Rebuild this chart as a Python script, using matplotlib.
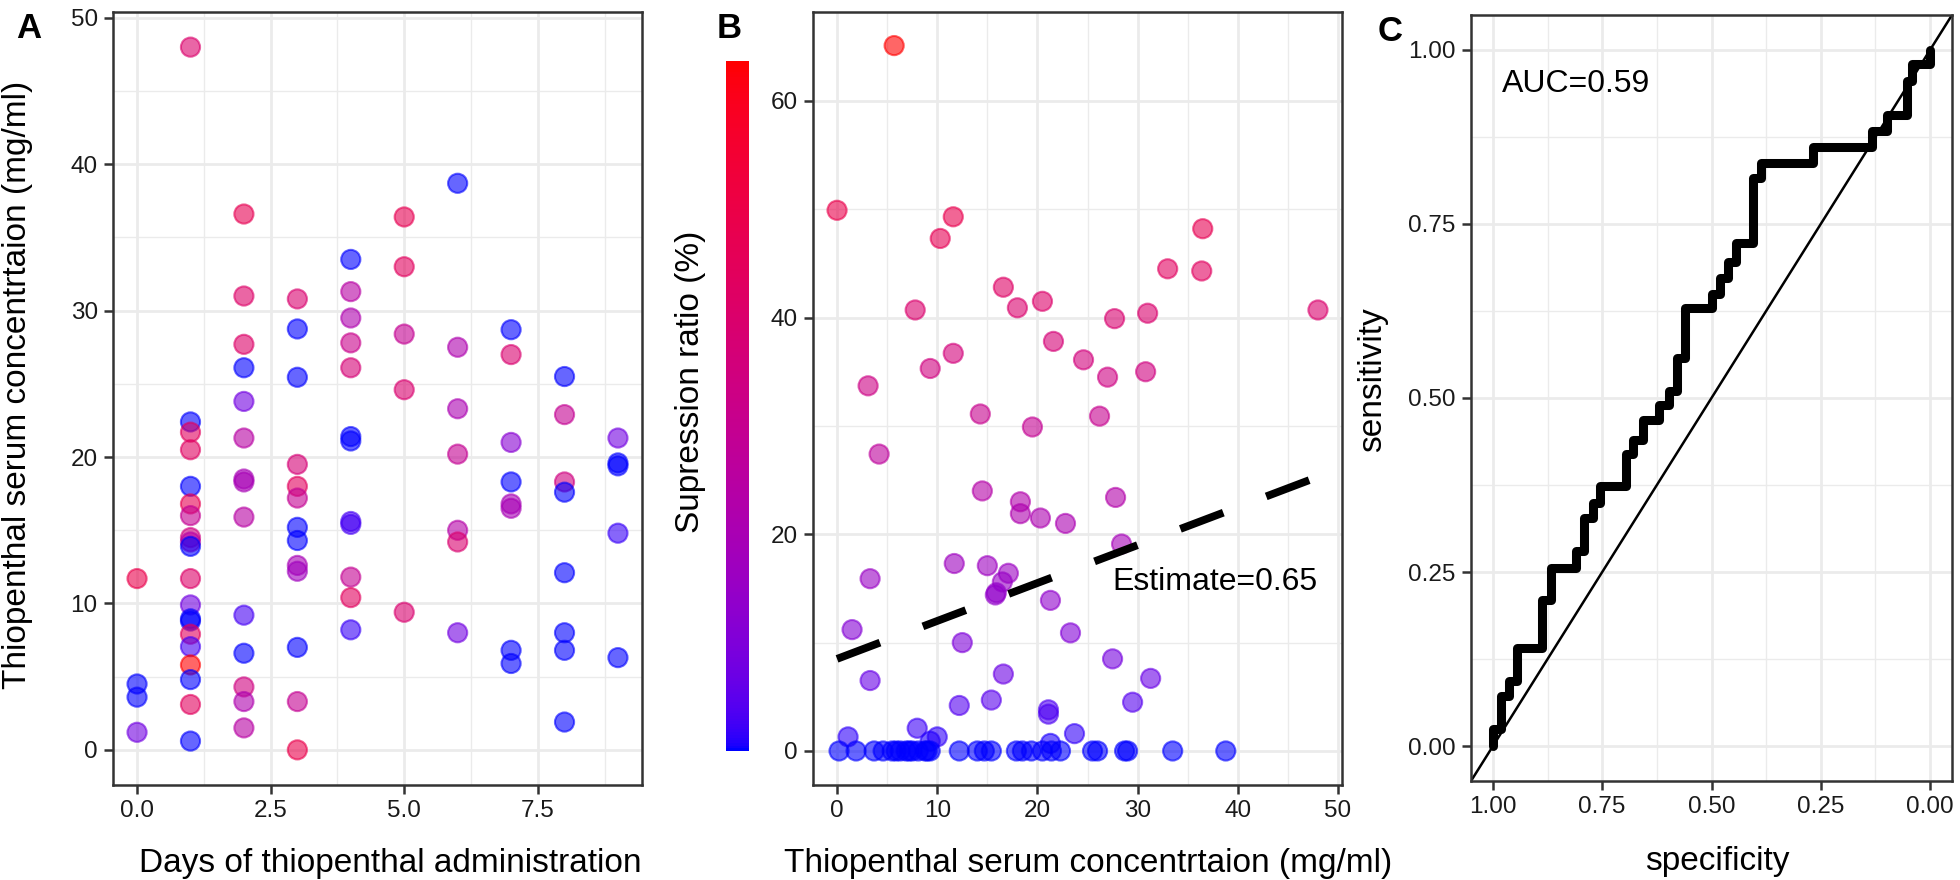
"""
Thiopenthal serum level vs. days / suppression ratio, plus ROC curve
"""
import numpy as np
import matplotlib
matplotlib.use("Agg")
import matplotlib.pyplot as plt
from matplotlib.colors import ListedColormap, Normalize
from matplotlib.ticker import MultipleLocator

# ---------------- data ----------------
# panel A: day of administration, serum concentration (mg/ml), suppression ratio (%)
a_days = ([0]*4 + [1]*20 + [2]*14 + [3]*13 + [4]*12 + [5]*5 + [6]*7
          + [7]*8 + [8]*8 + [9]*5)
a_conc = [11.7, 4.5, 3.6, 1.2,
          48.0, 22.4, 21.7, 20.5, 18.0, 16.8, 16.0, 14.5, 14.2, 13.9,
          11.7, 9.9, 8.95, 8.8, 7.9, 7.05, 5.8, 4.8, 3.1, 0.6,
          36.6, 31.0, 27.7, 26.1, 23.8, 21.3, 18.5, 18.3, 15.9, 9.2,
          6.6, 4.3, 3.3, 1.5,
          30.8, 28.75, 25.45, 19.5, 18.0, 17.2, 15.2, 14.3, 12.6, 12.2,
          7.0, 3.3, 0.0,
          33.5, 31.3, 29.5, 27.8, 26.1, 21.4, 21.1, 15.6, 15.4, 11.8, 10.4, 8.2,
          36.4, 33.0, 28.4, 24.6, 9.4,
          38.7, 27.5, 23.3, 20.2, 15.0, 14.2, 8.0,
          28.7, 27.0, 21.0, 18.3, 16.8, 16.5, 6.8, 5.9,
          25.5, 22.9, 18.3, 17.6, 12.1, 8.0, 6.8, 1.9,
          21.3, 19.6, 19.4, 14.8, 6.3]
a_supp = [50, 0, 0, 8,
          41, 0, 45, 44, 0, 48, 30, 35, 25, 0,
          42, 8, 0, 0, 45, 3, 65, 0, 45, 0,
          48, 42, 42, 0, 8, 25, 20, 20, 25, 3,
          0, 35, 22, 25,
          40, 0, 0, 38, 45, 30, 0, 0, 20, 18,
          0, 30, 50,
          0, 25, 22, 32, 38, 0, 0, 3, 3, 30, 45, 2,
          48, 45, 30, 40, 40,
          0, 22, 21, 30, 24, 40, 8,
          0, 40, 12, 0, 20, 20, 0, 0,
          0, 30, 35, 0, 0, 0, 0, 0,
          8, 0, 0, 2, 0]

# panel B: serum concentration vs suppression ratio
b_conc = [5.7, 0.0, 11.6, 10.3, 36.5, 33.0, 36.4, 16.6, 18.0, 20.5, 7.8, 27.7,
          31.0, 48.0, 21.6, 24.6, 11.6, 9.3, 27.0, 30.8, 3.1, 14.3, 26.2, 19.5,
          4.2, 14.5, 18.3, 18.3, 20.3, 22.8, 27.8, 28.4, 11.7, 15.0, 17.1, 16.5,
          15.9, 15.8, 21.3, 3.3, 1.5, 12.5, 23.3, 27.5, 16.6, 3.3, 31.3, 12.2,
          15.4, 21.1, 21.1, 29.5, 8.0, 23.7, 1.1, 10.0, 9.3, 21.3,
          0.2, 1.9, 3.7, 4.6, 5.5, 5.9, 6.3, 6.9, 7.2, 7.5, 8.1, 8.8, 9.0, 9.3,
          12.2, 14.0, 14.7, 15.4, 17.9, 18.5, 19.4, 20.5, 21.4, 22.3, 25.5,
          26.0, 28.7, 29.0, 33.5, 38.8]
b_supp = [65.1, 49.9, 49.3, 47.3, 48.2, 44.5, 44.3, 42.8, 40.9, 41.5, 40.7, 39.9,
          40.4, 40.7, 37.8, 36.1, 36.7, 35.3, 34.5, 35.0, 33.7, 31.1, 30.9, 29.9,
          27.4, 24.0, 23.0, 21.9, 21.5, 21.0, 23.4, 19.1, 17.3, 17.1, 16.4, 15.6,
          14.6, 14.4, 13.9, 15.9, 11.2, 10.0, 10.9, 8.5, 7.1, 6.5, 6.7, 4.2,
          4.7, 3.8, 3.4, 4.5, 2.1, 1.6, 1.3, 1.3, 0.9, 0.7,
          0, 0, 0, 0, 0, 0, 0, 0, 0, 0, 0, 0, 0, 0,
          0, 0, 0, 0, 0, 0, 0, 0, 0, 0, 0,
          0, 0, 0, 0, 0]
fit_intercept = 8.5   # linear trend
fit_slope = 0.35
fit_label = "Estimate=0.65"

# panel C: ROC curve corners (specificity, sensitivity)
roc_spec = [1.0, 0.981, 0.962, 0.944, 0.887, 0.868, 0.81, 0.791, 0.772, 0.754,
            0.695, 0.68, 0.657, 0.62, 0.597, 0.578, 0.56, 0.5, 0.481, 0.462,
            0.443, 0.405, 0.386, 0.269, 0.134, 0.098, 0.054, 0.041, 0.0, 0.0]
roc_sens = [0.0, 0.024, 0.072, 0.093, 0.141, 0.21, 0.256, 0.28, 0.327, 0.349,
            0.373, 0.42, 0.44, 0.468, 0.49, 0.51, 0.558, 0.629, 0.649, 0.672,
            0.696, 0.723, 0.816, 0.838, 0.86, 0.883, 0.907, 0.955, 0.979, 1.0]
auc_label = "AUC=0.59"

a_xticks = [0, 2.5, 5, 7.5]
a_xticklabels = ["0.0", "2.5", "5.0", "7.5"]
a_yticks = [0, 10, 20, 30, 40, 50]
b_xticks = [0, 10, 20, 30, 40, 50]
b_yticks = [0, 20, 40, 60]
c_ticks = [0, 0.25, 0.5, 0.75, 1.0]
c_ticklabels = ["0.00", "0.25", "0.50", "0.75", "1.00"]

# ---------------- style ----------------
plt.rcParams["font.family"] = ["Liberation Sans", "DejaVu Sans"]

TICK_FS = 17.5
LAB_FS = 24
BORDER = "#333333"
GRID = "#EBEBEB"


def lab_ramp(lo, hi, n=256):
	"""blue->red ramp interpolated in CIELAB, like ggplot's gradient"""
	M = np.array([[0.4124, 0.3576, 0.1805],
	              [0.2126, 0.7152, 0.0722],
	              [0.0193, 0.1192, 0.9505]])
	white = np.array([0.95047, 1.0, 1.08883])

	def to_lab(rgb):
		rgb = np.asarray(rgb, float)
		lin = np.where(rgb <= 0.04045, rgb / 12.92, ((rgb + 0.055) / 1.055) ** 2.4)
		xyz = M @ lin / white
		f = np.where(xyz > 0.008856, np.cbrt(xyz), 7.787 * xyz + 16 / 116)
		return np.array([116 * f[1] - 16, 500 * (f[0] - f[1]), 200 * (f[1] - f[2])])

	t = np.linspace(0, 1, n)[:, None]
	lab = to_lab(lo) * (1 - t) + to_lab(hi) * t
	fy = (lab[:, 0] + 16) / 116
	f = np.stack([fy + lab[:, 1] / 500, fy, fy - lab[:, 2] / 200], axis=1)
	xyz = np.where(f ** 3 > 0.008856, f ** 3, (f - 16 / 116) / 7.787) * white
	lin = np.clip(xyz @ np.linalg.inv(M).T, 0, 1)
	srgb = np.where(lin <= 0.0031308, 12.92 * lin, 1.055 * lin ** (1 / 2.4) - 0.055)
	return ListedColormap(np.clip(srgb, 0, 1))


cmap = lab_ramp((0, 0, 1), (1, 0, 0))
norm = Normalize(vmin=0, vmax=max(b_supp))


def dots(ax, x, y, c):
	cols = cmap(norm(np.asarray(c, float)))
	cols[:, 3] = 0.6
	ax.scatter(x, y, s=190, marker="o", facecolors=cols, edgecolors=cols,
	           linewidths=1.5, zorder=3)


def style(ax):
	for s in ax.spines.values():
		s.set_color(BORDER)
		s.set_linewidth(1.8)
	ax.set_axisbelow(True)
	ax.grid(True, which="major", color=GRID, lw=2.0)
	ax.grid(True, which="minor", color=GRID, lw=1.0)
	ax.tick_params(which="major", length=6.5, width=1.8, color=BORDER, pad=4.5,
	               labelsize=TICK_FS, labelcolor="#1a1a1a")
	ax.tick_params(which="minor", length=0)


def px(x, y):
	# pixel position (from top-left) -> figure fraction
	return x / 1960, 1 - y / 880


def box(left, top, right, bottom):
	return [left / 1960, 1 - bottom / 880, (right - left) / 1960, (bottom - top) / 880]


fig = plt.figure(figsize=(19.6, 8.8), dpi=100)

# ---------------- A ----------------
axA = fig.add_axes(box(113, 12, 642, 785))
dots(axA, a_days, a_conc, a_supp)
axA.set_xlim(-0.45, 9.45)
axA.set_ylim(-2.4, 50.4)
axA.set_xticks(a_xticks, a_xticklabels)
axA.set_yticks(a_yticks, [str(v) for v in a_yticks])
axA.xaxis.set_minor_locator(MultipleLocator(1.25))
axA.yaxis.set_minor_locator(MultipleLocator(5))
style(axA)

# ---------------- B ----------------
axB = fig.add_axes(box(813, 12, 1342, 785))
dots(axB, b_conc, b_supp, b_supp)
xs = np.array([min(b_conc), max(b_conc)])
axB.plot(xs, fit_intercept + fit_slope * xs, color="black", lw=5.6,
         dashes=(5.9, 5.9), dash_capstyle="butt", zorder=4)
axB.text(27.5, 17.0, fit_label, ha="left", va="top", fontsize=23, zorder=5)
axB.set_xlim(-2.4, 50.4)
axB.set_ylim(-3.14, 68.2)
axB.set_xticks(b_xticks, [str(v) for v in b_xticks])
axB.set_yticks(b_yticks, [str(v) for v in b_yticks])
axB.xaxis.set_minor_locator(MultipleLocator(5))
axB.yaxis.set_minor_locator(MultipleLocator(10))
style(axB)

cax = fig.add_axes(box(726, 61, 749, 751))
cb = fig.colorbar(plt.cm.ScalarMappable(norm=norm, cmap=cmap), cax=cax)
cb.outline.set_visible(False)
cb.set_ticks([])

# ---------------- C ----------------
axC = fig.add_axes(box(1471, 15, 1952, 781))
axC.axline((1, 0), (0, 1), color="black", lw=1.8, zorder=2)
axC.step(roc_spec, roc_sens, where="pre", color="black", lw=6.5,
         solid_joinstyle="round", solid_capstyle="round", zorder=3)
axC.text(0.9795, 0.973, auc_label, ha="left", va="top", fontsize=23)
axC.set_xlim(1.05, -0.05)
axC.set_ylim(-0.05, 1.05)
axC.set_xticks(c_ticks, c_ticklabels)
axC.set_yticks(c_ticks, c_ticklabels)
axC.xaxis.set_minor_locator(MultipleLocator(0.125))
axC.yaxis.set_minor_locator(MultipleLocator(0.125))
style(axC)

# ---------------- labels ----------------
fig.text(*px(390, 872), "Days of thiopenthal administration", ha="center",
         va="baseline", fontsize=LAB_FS)
fig.text(*px(1088, 872), "Thiopenthal serum concentrtaion (mg/ml)", ha="center",
         va="baseline", fontsize=LAB_FS)
fig.text(*px(1717, 870), "specificity", ha="center", va="baseline",
         fontsize=LAB_FS)
fig.text(*px(18, 385), "Thiopenthal serum concentrtaion (mg/ml)", rotation=90,
         ha="center", va="center", fontsize=LAB_FS)
fig.text(*px(690, 382), "Supression ratio (%)", rotation=90,
         ha="center", va="center", fontsize=LAB_FS)
fig.text(*px(1373, 380), "sensitivity", rotation=90,
         ha="center", va="center", fontsize=LAB_FS)
for letter, x, y in [("A", 16, 12), ("B", 717, 12), ("C", 1378, 15)]:
	fig.text(*px(x, y), letter, ha="left", va="top", fontsize=25,
	         fontweight="bold")

fig.savefig("out.png", dpi=100, facecolor="white")
